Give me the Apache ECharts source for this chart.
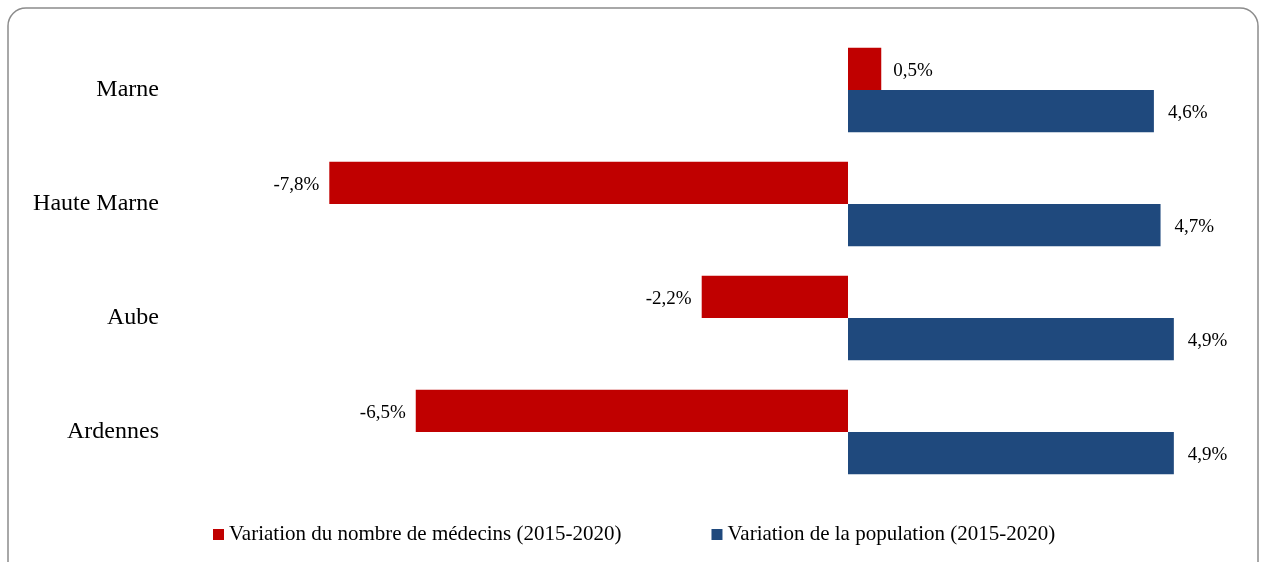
<!DOCTYPE html>
<html>
<head>
<meta charset="utf-8">
<script src="https://cdn.jsdelivr.net/npm/echarts@6/dist/echarts.min.js"></script>
<style>
  html, body { margin: 0; padding: 0; background: #fff; }
  #chart { width: 1261px; height: 562px; }
</style>
</head>
<body>
<div id="chart"></div>
<script>
// departements, top to bottom
const categories = ['Marne', 'Haute Marne', 'Aube', 'Ardennes'];
const medecins = [0.5, -7.8, -2.2, -6.5];
const population = [4.6, 4.7, 4.9, 4.9];
const seriesNames = ['Variation du nombre de médecins (2015-2020)', 'Variation de la population (2015-2020)'];

const serif = 'Liberation Serif';

function pct(v) {
  return v.toFixed(1).replace('.', ',') + '%';
}

let chart = echarts.init(document.getElementById('chart'));
let option = {
  animation: false,
  color: ['#C00000', '#1F497D'],
  graphic: [{
    type: 'rect',
    shape: { x: 8, y: 8, width: 1250, height: 600, r: 18 },
    style: { fill: 'none', stroke: '#8c8c8c', lineWidth: 1.5 },
    silent: true
  }],
  grid: { left: 183, right: 14, top: 33, height: 456 },
  legend: {
    bottom: 12,
    left: 208,
    itemWidth: 11,
    itemHeight: 11,
    itemGap: 90,
    icon: 'rect',
    textStyle: { fontFamily: serif, fontSize: 21, color: '#000' },
    data: seriesNames
  },
  xAxis: {
    type: 'value',
    min: -10,
    max: 6,
    show: false
  },
  yAxis: {
    type: 'category',
    inverse: true,
    data: categories,
    axisLine: { show: false },
    axisTick: { show: false },
    axisLabel: { fontFamily: serif, fontSize: 24, color: '#000', margin: 24 }
  },
  series: [
    {
      name: seriesNames[0],
      type: 'bar',
      barGap: '0%',
      barCategoryGap: '26%',
      data: medecins.map(v => ({
        value: v,
        label: { position: v < 0 ? 'left' : 'right', distance: v < 0 ? 10 : 12 }
      })),
      label: {
        show: true,
        offset: [0, 2],
        fontFamily: serif,
        fontSize: 19,
        color: '#000',
        formatter: p => pct(p.value)
      }
    },
    {
      name: seriesNames[1],
      type: 'bar',
      data: population,
      label: {
        show: true,
        position: 'right',
        distance: 14,
        offset: [0, 2],
        fontFamily: serif,
        fontSize: 19,
        color: '#000',
        formatter: p => pct(p.value)
      }
    }
  ]
};
chart.setOption(option);
</script>
</body>
</html>
